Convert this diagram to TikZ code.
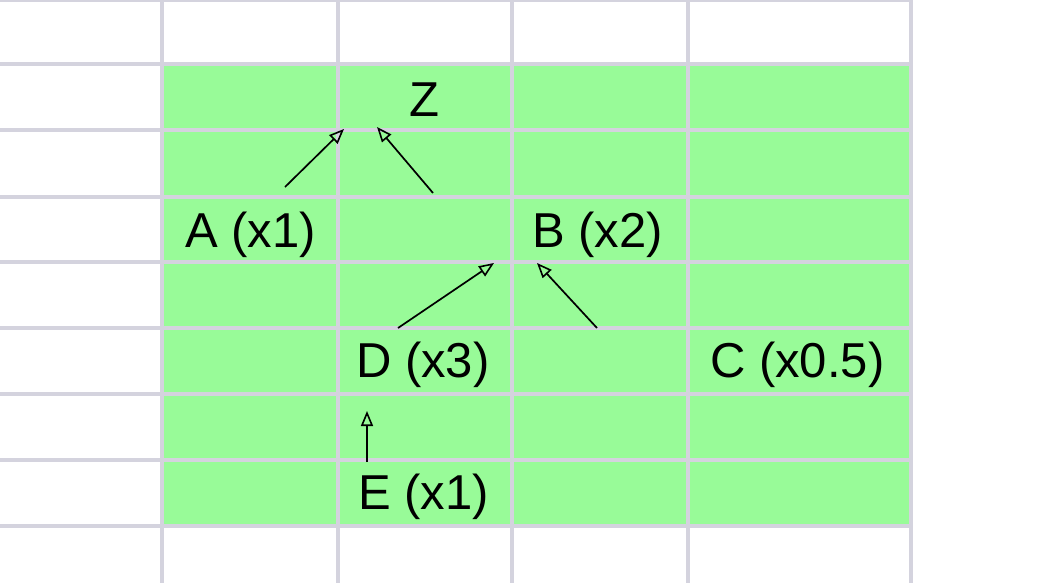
\documentclass[tikz,border=0pt]{standalone}
\usepackage{fontspec}
\setmainfont{Liberation Sans}
\usetikzlibrary{arrows.meta}
\definecolor{gridline}{RGB}{212,211,222}
\definecolor{cellgreen}{RGB}{152,251,152}
\tikzset{
  gridstyle/.style={draw=gridline, line width=3.5pt},
  lbl/.style={anchor=base west, inner sep=0pt, font=\fontsize{49}{58}\selectfont},
  dep/.style={line width=1.7pt, -{Triangle[open, length=15pt, width=12pt, line width=1.6pt]}},
}
\begin{document}
\begin{tikzpicture}[x=1pt, y=-1pt]
\useasboundingbox (0,0) rectangle (1049,582);
\fill[white] (0,0) rectangle (1049,582);
% green block
\fill[cellgreen] (162,64) rectangle (911,526);
% grid
\foreach \yy in {0,64,130,197,262,328,394,460,526}
  \draw[gridstyle] (0,\yy) -- (911,\yy);
\foreach \xx in {162,338,512,688,911}
  \draw[gridstyle] (\xx,-2) -- (\xx,584);
% labels
\node[lbl] (Z) at (409,116) {Z};
\node[lbl] (A) at (185,247) {A (x1)};
\node[lbl] (B) at (532,247) {B (x2)};
\node[lbl] (D) at (356,377) {D (x3)};
\node[lbl] (C) at (710,377) {C (x0.5)};
\node[lbl] (E) at (358,509) {E (x1)};
% connector end points
\coordinate (a1) at (285,187);
\coordinate (z1) at (344,129);
\coordinate (b1) at (433,193);
\coordinate (z2) at (377,127);
\coordinate (d1) at (398,328);
\coordinate (b2) at (494,263);
\coordinate (c1) at (597,328);
\coordinate (b3) at (537,263);
\coordinate (e1) at (367,462);
\coordinate (d2) at (367,411);
% connectors
\draw[dep] (a1) -- (z1);
\draw[dep] (b1) -- (z2);
\draw[dep] (d1) -- (b2);
\draw[dep] (c1) -- (b3);
\draw[dep] (e1) -- (d2);
\end{tikzpicture}
\end{document}
